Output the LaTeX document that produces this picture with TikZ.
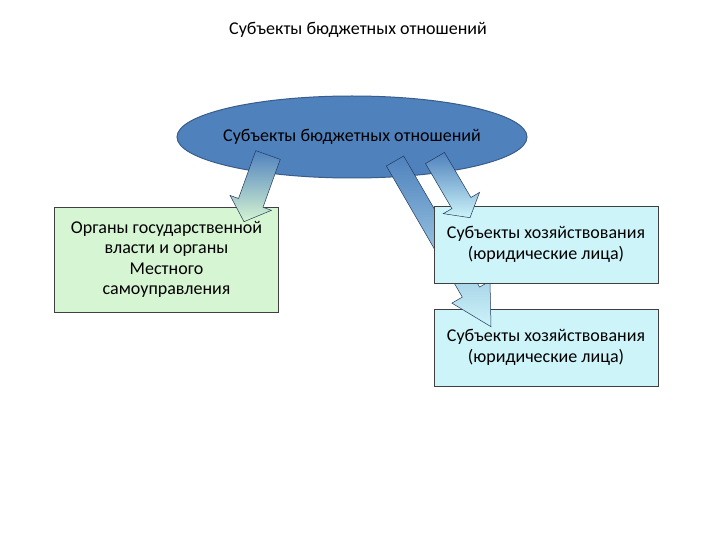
\documentclass[tikz,border=0pt]{standalone}
\usepackage{fontspec}
\setmainfont{Carlito}
\usetikzlibrary{calc, shapes.geometric}
\definecolor{ellblue}{HTML}{4F81BD}
\definecolor{ellline}{HTML}{385D8A}
\definecolor{boxgreen}{HTML}{D6F5D2}
\definecolor{boxcyan}{HTML}{CCF4F9}
\definecolor{arrline}{HTML}{23395B}
\tikzstyle{bluebox} = [ellipse, draw=ellline, fill=ellblue, line width=1pt, minimum width=350, minimum height=82, inner sep=0pt, font=\fontsize{18}{21}\selectfont]
\tikzstyle{subjbox} = [rectangle, draw=black!75, line width=0.6pt, align=center, minimum width=224, inner sep=2pt, font=\fontsize{18}{20.5}\selectfont]
\tikzstyle{fatarrow} = [draw=arrline, line width=0.5pt]
% block arrow: options, from, to, shaft half width, head half width, head length
\newcommand{\blockarrow}[6]{%
  \coordinate (hb) at ($(#3)!#6pt!(#2)$);
  \path[fatarrow, #1] ($(#2)!#4pt!90:(#3)$) -- ($(hb)!#4pt!90:(#3)$) -- ($(hb)!#5pt!90:(#3)$)
    -- (#3) -- ($(hb)!#5pt!-90:(#3)$) -- ($(hb)!#4pt!-90:(#3)$) -- ($(#2)!#4pt!-90:(#3)$) -- cycle;}

\begin{document}
\begin{tikzpicture}[x=1pt, y=-1pt]
        \useasboundingbox[fill=white] (0,0) rectangle (720,540);

        % Title
        \node at (358,30) [font=\fontsize{18}{21}\selectfont] (title) {Субъекты бюджетных отношений};

        % Ellipse
        \node at (352,137) [bluebox] (subj) {\makebox[0pt]{Субъекты бюджетных отношений}};

        % Left box
        \node at (166.5,259.5) [subjbox, fill=boxgreen, minimum height=105] (organy) {Органы государственной\\власти и органы\\Местного\\самоуправления};

        % Right boxes
        \node at (546,347.5) [subjbox, fill=boxcyan, minimum height=77] (hoz2) {Субъекты хозяйствования\\(юридические лица)};

        % Arrow to lower right box
        \coordinate (a2s) at ($(subj.center)+(43,24)$);
        \coordinate (a2e) at ($(hoz2.north)+(-55,18)$);
        \blockarrow{top color=ellblue, middle color=ellblue!80!cyan!60!white, bottom color=boxcyan}{a2s}{a2e}{10}{22}{40}

        \node at (546,244.5) [subjbox, fill=boxcyan, minimum height=77] (hoz1) {Субъекты хозяйствования\\(юридические лица)};

        % Arrow to left box
        \coordinate (a1s) at ($(subj.center)+(-84,18)$);
        \coordinate (a1e) at ($(organy.north)+(77.5,15)$);
        \blockarrow{top color=ellblue, middle color=cyan!30!white, bottom color=boxgreen}{a1s}{a1e}{13}{22}{20}

        % Arrow to upper right box
        \coordinate (a3s) at ($(subj.center)+(83,21)$);
        \coordinate (a3e) at ($(hoz1.north)+(-76,12)$);
        \blockarrow{top color=ellblue, middle color=ellblue!40!white, bottom color=boxcyan}{a3s}{a3e}{11}{21}{17}

\end{tikzpicture}
\end{document}
